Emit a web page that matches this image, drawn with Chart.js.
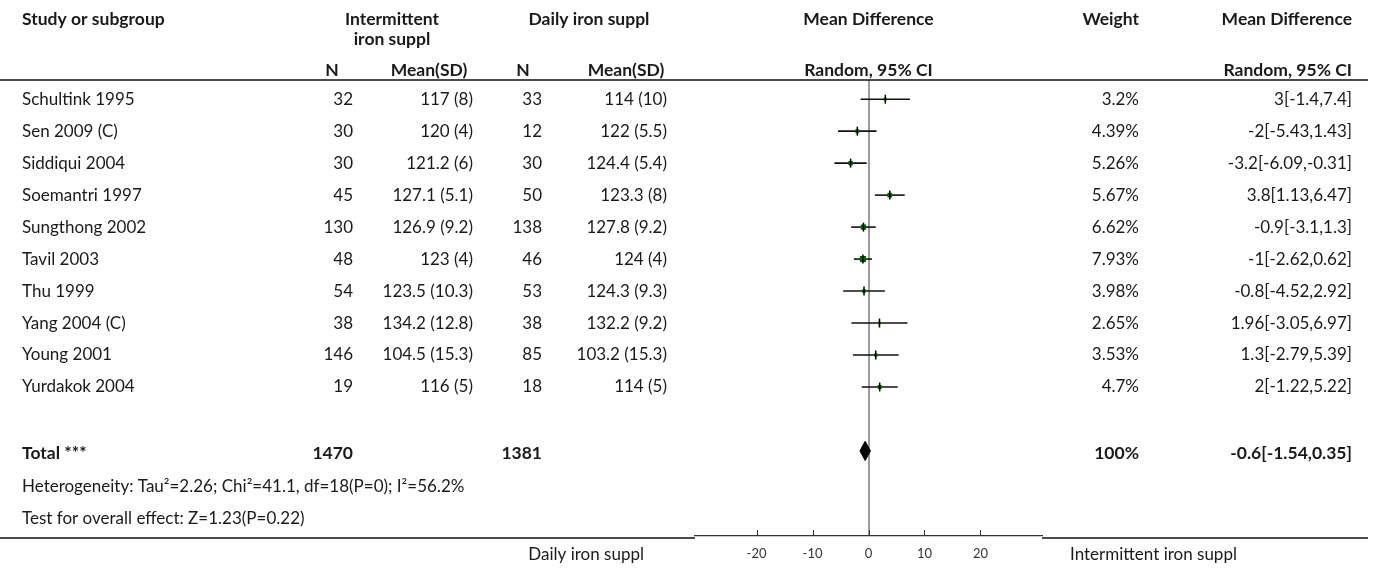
<!DOCTYPE html>
<html>
<head>
<meta charset="utf-8">
<script src="https://cdn.jsdelivr.net/npm/chart.js@4.4.1/dist/chart.umd.min.js"></script>
<style>
  html, body { margin: 0; padding: 0; background: #fff; }
  #wrap { width: 1375px; height: 570px; }
</style>
</head>
<body>
<div id="wrap"><canvas id="forest" width="1375" height="570"></canvas></div>
<script>
// study rows
const studies = ['Schultink 1995', 'Sen 2009 (C)', 'Siddiqui 2004', 'Soemantri 1997', 'Sungthong 2002',
  'Tavil 2003', 'Thu 1999', 'Yang 2004 (C)', 'Young 2001', 'Yurdakok 2004'];
const nInt = [32, 30, 30, 45, 130, 48, 54, 38, 146, 19];
const meanInt = ['117 (8)', '120 (4)', '121.2 (6)', '127.1 (5.1)', '126.9 (9.2)', '123 (4)',
  '123.5 (10.3)', '134.2 (12.8)', '104.5 (15.3)', '116 (5)'];
const nDaily = [33, 12, 30, 50, 138, 46, 53, 38, 85, 18];
const meanDaily = ['114 (10)', '122 (5.5)', '124.4 (5.4)', '123.3 (8)', '127.8 (9.2)', '124 (4)',
  '124.3 (9.3)', '132.2 (9.2)', '103.2 (15.3)', '114 (5)'];
const weights = [3.2, 4.39, 5.26, 5.67, 6.62, 7.93, 3.98, 2.65, 3.53, 4.7];
const md = [3, -2, -3.2, 3.8, -0.9, -1, -0.8, 1.96, 1.3, 2];
const ciLow = [-1.4, -5.43, -6.09, 1.13, -3.1, -2.62, -4.52, -3.05, -2.79, -1.22];
const ciHigh = [7.4, 1.43, -0.31, 6.47, 1.3, 0.62, 2.92, 6.97, 5.39, 5.22];

// total row
const totalN = [1470, 1381];
const totalWeight = 100;
const totalMD = -0.6;
const totalLow = -1.54;
const totalHigh = 0.35;
const heterogeneity = 'Heterogeneity: Tau\u00b2=2.26; Chi\u00b2=41.1, df=18(P=0); I\u00b2=56.2%';
const overallTest = 'Test for overall effect: Z=1.23(P=0.22)';

const xTicks = [-20, -10, 0, 10, 20];
const favoursLeft = 'Daily iron suppl';
const favoursRight = 'Intermittent iron suppl';

const totalRow = studies.length + 1;
const FONT = 'Lato, "Noto Sans", sans-serif';
const INK = '#1a1a1a';

// CI whiskers, one little line per study
const ciSets = studies.map((s, i) => ({
  type: 'line',
  data: [{x: ciLow[i], y: i}, {x: ciHigh[i], y: i}],
  borderColor: '#111',
  borderWidth: 1.6,
  pointRadius: 0,
  order: 3
}));

const squares = {
  type: 'scatter',
  data: md.map((m, i) => ({x: m, y: i})),
  pointStyle: 'rect',
  pointRadius: weights.map(w => (0.65 * w + 1) / Math.SQRT2),
  backgroundColor: '#006400',
  borderWidth: 0,
  order: 2
};

const pointTicks = {
  type: 'scatter',
  data: md.map((m, i) => ({x: m, y: i})),
  pointStyle: 'line',
  rotation: 90,
  pointRadius: 4.5,
  borderColor: '#000',
  borderWidth: 1.5,
  order: 1
};

const diamond = {
  type: 'line',
  data: [
    {x: totalLow, y: totalRow},
    {x: totalMD, y: totalRow - 0.3},
    {x: totalHigh, y: totalRow},
    {x: totalMD, y: totalRow + 0.3},
    {x: totalLow, y: totalRow}
  ],
  borderColor: '#000',
  backgroundColor: '#000',
  borderWidth: 1,
  pointRadius: 0,
  fill: 'shape',
  tension: 0,
  order: 1
};

function txt(ctx, s, x, y, align, bold) {
  ctx.font = bold ? 'bold 17.5px ' + FONT : '17px ' + FONT;
  ctx.textAlign = align;
  ctx.fillText(s, x, y);
}

const tablePlugin = {
  id: 'table',
  afterDraw(chart) {
    const ctx = chart.ctx;
    const xs = chart.scales.x;
    const ys = chart.scales.y;
    const area = chart.chartArea;
    const mid = xs.getPixelForValue(0);
    ctx.save();
    ctx.fillStyle = INK;
    ctx.textBaseline = 'middle';

    // header
    txt(ctx, 'Study or subgroup', 22, 19, 'left', true);
    txt(ctx, 'Intermittent', 392, 19, 'center', true);
    txt(ctx, 'iron suppl', 392, 39, 'center', true);
    txt(ctx, 'Daily iron suppl', 589, 19, 'center', true);
    txt(ctx, 'Mean Difference', mid, 19, 'center', true);
    txt(ctx, 'Weight', 1139, 19, 'right', true);
    txt(ctx, 'Mean Difference', 1352, 19, 'right', true);
    txt(ctx, 'N', 332, 70, 'center', true);
    txt(ctx, 'Mean(SD)', 429, 70, 'center', true);
    txt(ctx, 'N', 523, 70, 'center', true);
    txt(ctx, 'Mean(SD)', 626, 70, 'center', true);
    txt(ctx, 'Random, 95% CI', mid, 70, 'center', true);
    txt(ctx, 'Random, 95% CI', 1352, 70, 'right', true);

    // study rows
    studies.forEach((s, i) => {
      const y = ys.getPixelForValue(i);
      txt(ctx, s, 22, y, 'left');
      txt(ctx, String(nInt[i]), 353, y, 'right');
      txt(ctx, meanInt[i], 473, y, 'right');
      txt(ctx, String(nDaily[i]), 542, y, 'right');
      txt(ctx, meanDaily[i], 667, y, 'right');
      txt(ctx, weights[i] + '%', 1139, y, 'right');
      txt(ctx, md[i] + '[' + ciLow[i] + ',' + ciHigh[i] + ']', 1352, y, 'right');
    });

    // total + footer
    const yt = ys.getPixelForValue(totalRow) + 2;
    txt(ctx, 'Total ***', 22, yt, 'left', true);
    txt(ctx, String(totalN[0]), 353, yt, 'right', true);
    txt(ctx, String(totalN[1]), 542, yt, 'right', true);
    txt(ctx, totalWeight + '%', 1139, yt, 'right', true);
    txt(ctx, totalMD + '[' + totalLow + ',' + totalHigh + ']', 1352, yt, 'right', true);
    txt(ctx, heterogeneity, 22, ys.getPixelForValue(totalRow + 1.1), 'left');
    txt(ctx, overallTest, 22, ys.getPixelForValue(totalRow + 2.1), 'left');

    // favours labels
    txt(ctx, favoursLeft, area.left - 51, area.bottom + 19, 'right');
    txt(ctx, favoursRight, area.right + 28, area.bottom + 19, 'left');

    // rules
    ctx.strokeStyle = '#111';
    ctx.lineWidth = 1.5;
    ctx.beginPath();
    ctx.moveTo(0, area.top);
    ctx.lineTo(1368, area.top);
    ctx.moveTo(0, area.bottom + 2);
    ctx.lineTo(area.left, area.bottom + 2);
    ctx.moveTo(area.right, area.bottom + 2);
    ctx.lineTo(1368, area.bottom + 2);
    ctx.stroke();

    // axis ticks pointing up
    ctx.strokeStyle = '#333';
    ctx.lineWidth = 1;
    ctx.beginPath();
    xTicks.forEach(v => {
      const px = Math.round(xs.getPixelForValue(v)) + 0.5;
      ctx.moveTo(px, area.bottom);
      ctx.lineTo(px, area.bottom - 6);
    });
    ctx.stroke();
    ctx.restore();
  }
};

new Chart(document.getElementById('forest'), {
  data: {
    datasets: [...ciSets, squares, pointTicks, diamond]
  },
  options: {
    responsive: false,
    animation: false,
    devicePixelRatio: 1,
    layout: {padding: {left: 695, right: 333, top: 80, bottom: 0}},
    plugins: {legend: {display: false}, tooltip: {enabled: false}},
    scales: {
      x: {
        type: 'linear',
        min: -31,
        max: 31,
        afterBuildTicks: s => { s.ticks = xTicks.map(v => ({value: v})); },
        afterFit: s => { s.height = 34; },
        grid: {
          drawTicks: false,
          lineWidth: 2,
          color: c => (c.tick && c.tick.value === 0 ? '#9c9c9c' : 'rgba(0,0,0,0)')
        },
        border: {display: true, color: '#333', width: 1.2},
        ticks: {padding: 10, color: '#333', font: {family: FONT, size: 13}}
      },
      y: {
        type: 'linear',
        display: false,
        reverse: true,
        min: -0.6,
        max: 13.66
      }
    }
  },
  plugins: [tablePlugin]
});
</script>
</body>
</html>
